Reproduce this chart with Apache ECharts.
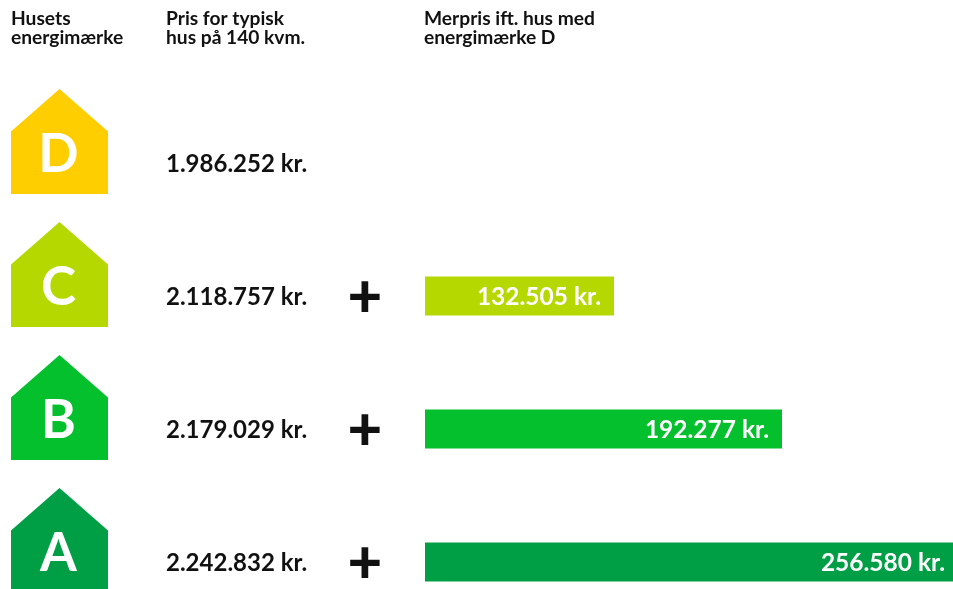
<!DOCTYPE html>
<html>
<head>
<meta charset="utf-8">
<title>Energimærke</title>
<script src="https://cdn.jsdelivr.net/npm/echarts@6/dist/echarts.min.js"></script>
<style>
html, body { margin: 0; padding: 0; background: #fff; overflow: hidden; }
#main { width: 953px; height: 589px; }
</style>
</head>
<body>
<div id="main"></div>
<script type="text/javascript">
var labels = ['D', 'C', 'B', 'A'];
var houseColors = ['#ffce00', '#b5d900', '#05c02d', '#009f45'];
var prices = ['1.986.252 kr.', '2.118.757 kr.', '2.179.029 kr.', '2.242.832 kr.'];
var extraLabels = [null, '132.505 kr.', '192.277 kr.', '256.580 kr.'];
// bar lengths as drawn in the picture, in kr. on the A bar's scale
// (the original's C and B bars are shorter than their printed amounts)
var barLengths = [null, 91845, 173484, 256580];
var labelGaps = [0, 13, 13, 8];
var headers = ['Husets\nenergimærke', 'Pris for typisk\nhus på 140 kvm.', 'Merpris ift. hus med\nenergimærke D'];

var font = 'Lato';
var housePath = 'path://M48.5 0 L97 42.5 L97 105 L0 105 L0 42.5 Z';

function column(x) {
    return labels.map(function (l) { return [x, l]; });
}

var chart = echarts.init(document.getElementById('main'), null, { renderer: 'canvas' });
chart.setOption({
    animation: false,
    backgroundColor: '#fff',
    title: [
        { text: headers[0], left: 11, top: 9 },
        { text: headers[1], left: 166, top: 9 },
        { text: headers[2], left: 424, top: 9 }
    ].map(function (t) {
        t.padding = 0;
        t.textStyle = { fontFamily: font, fontSize: 19.2, fontWeight: 700, color: '#111', lineHeight: 19 };
        return t;
    }),
    // rows are 133px apart, so the last band runs past the page bottom
    grid: [
        { left: 0, width: 953, top: 96.5, height: 532, outerBoundsMode: 'none' },
        { left: 425, width: 528, top: 96.5, height: 532, outerBoundsMode: 'none' }
    ],
    xAxis: [
        { gridIndex: 0, type: 'value', min: 0, max: 953, show: false },
        { gridIndex: 1, type: 'value', min: 0, max: 256580, show: false }
    ],
    yAxis: [
        { gridIndex: 0, type: 'category', data: labels, inverse: true, show: false },
        { gridIndex: 1, type: 'category', data: labels, inverse: true, show: false }
    ],
    series: [
        {
            name: 'Merpris',
            type: 'bar',
            xAxisIndex: 1,
            yAxisIndex: 1,
            barWidth: 39,
            data: barLengths.map(function (v, i) {
                return {
                    value: v,
                    itemStyle: { color: houseColors[i] },
                    label: { distance: labelGaps[i] }
                };
            }),
            label: {
                show: true,
                position: 'insideRight',
                offset: [0, 1],
                fontFamily: font,
                fontSize: 24.5,
                fontWeight: 700,
                color: '#fff',
                formatter: function (p) { return extraLabels[p.dataIndex] || ''; }
            }
        },
        {
            name: 'Energimærke',
            type: 'scatter',
            clip: false,
            symbol: housePath,
            symbolSize: [97, 105],
            symbolOffset: [0, -21.5],
            data: column(59.5).map(function (d, i) {
                return { value: d, itemStyle: { color: houseColors[i], opacity: 1 } };
            }),
            label: {
                show: true,
                position: 'inside',
                offset: [-1, 13],
                fontFamily: font,
                fontSize: 53,
                fontWeight: 700,
                color: '#fff',
                formatter: function (p) { return labels[p.dataIndex]; }
            }
        },
        {
            name: 'Pris',
            type: 'scatter',
            symbolSize: 0,
            itemStyle: { opacity: 1 },
            data: column(166),
            label: {
                show: true,
                position: 'right',
                distance: 0,
                offset: [0, 1],
                fontFamily: font,
                fontSize: 24,
                fontWeight: 700,
                color: '#111',
                formatter: function (p) { return prices[p.dataIndex]; }
            }
        },
        {
            name: 'Plus',
            type: 'scatter',
            symbolSize: 0,
            itemStyle: { opacity: 1 },
            data: column(365).slice(1),
            label: {
                show: true,
                position: 'inside',
                offset: [0, 1.5],
                fontFamily: font,
                fontSize: 60,
                fontWeight: 900,
                color: '#111',
                formatter: '+'
            }
        }
    ]
});
</script>
</body>
</html>
